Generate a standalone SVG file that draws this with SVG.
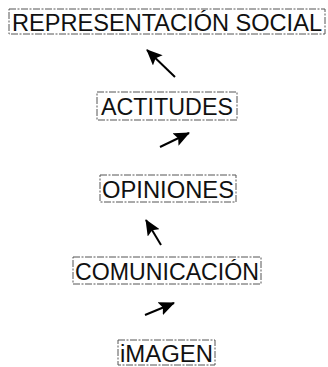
<svg xmlns="http://www.w3.org/2000/svg" width="328" height="367" viewBox="0 0 328 367">
<style>
.box{fill:none;stroke:#555;stroke-width:1;stroke-dasharray:7 1.5 2 1.5}
.t{font-family:"Liberation Sans",Arial,sans-serif;font-size:23.5px;fill:#111}
.c{stroke:#000;stroke-width:2;fill:none;marker-end:url(#ah)}
</style>
<defs>
<marker id="ah" viewBox="0 0 16 14" refX="15" refY="7" markerWidth="16" markerHeight="14" markerUnits="userSpaceOnUse" orient="auto">
<path d="M0,0 L16,7 L0,14 L3,7 z" fill="#000"/>
</marker>
</defs>
<rect width="328" height="367" fill="#fff"/>
<g id="representacion">
<rect class="box" x="9" y="9" width="316" height="25"/>
<text class="t" x="12" y="31" textLength="310" lengthAdjust="spacingAndGlyphs">REPRESENTACIÓN SOCIAL</text>
</g>
<g id="actitudes">
<rect class="box" x="97" y="92" width="140" height="28"/>
<text class="t" x="101" y="115" textLength="132" lengthAdjust="spacingAndGlyphs">ACTITUDES</text>
</g>
<g id="opiniones">
<rect class="box" x="100" y="175" width="136" height="27"/>
<text class="t" x="102" y="198" textLength="132" lengthAdjust="spacingAndGlyphs">OPINIONES</text>
</g>
<g id="comunicacion">
<rect class="box" x="73" y="257" width="188" height="27"/>
<text class="t" x="75" y="280" textLength="184" lengthAdjust="spacingAndGlyphs">COMUNICACIÓN</text>
</g>
<g id="imagen">
<rect class="box" x="118" y="340" width="97" height="25"/>
<text class="t" x="120" y="362" textLength="93" lengthAdjust="spacingAndGlyphs">iMAGEN</text>
</g>
<g id="connectors">
<line class="c" x1="175" y1="77" x2="147" y2="50"/>
<line class="c" x1="160" y1="147" x2="189" y2="133"/>
<line class="c" x1="161" y1="245" x2="146" y2="220"/>
<line class="c" x1="145" y1="315" x2="174" y2="303"/>
</g>
</svg>
